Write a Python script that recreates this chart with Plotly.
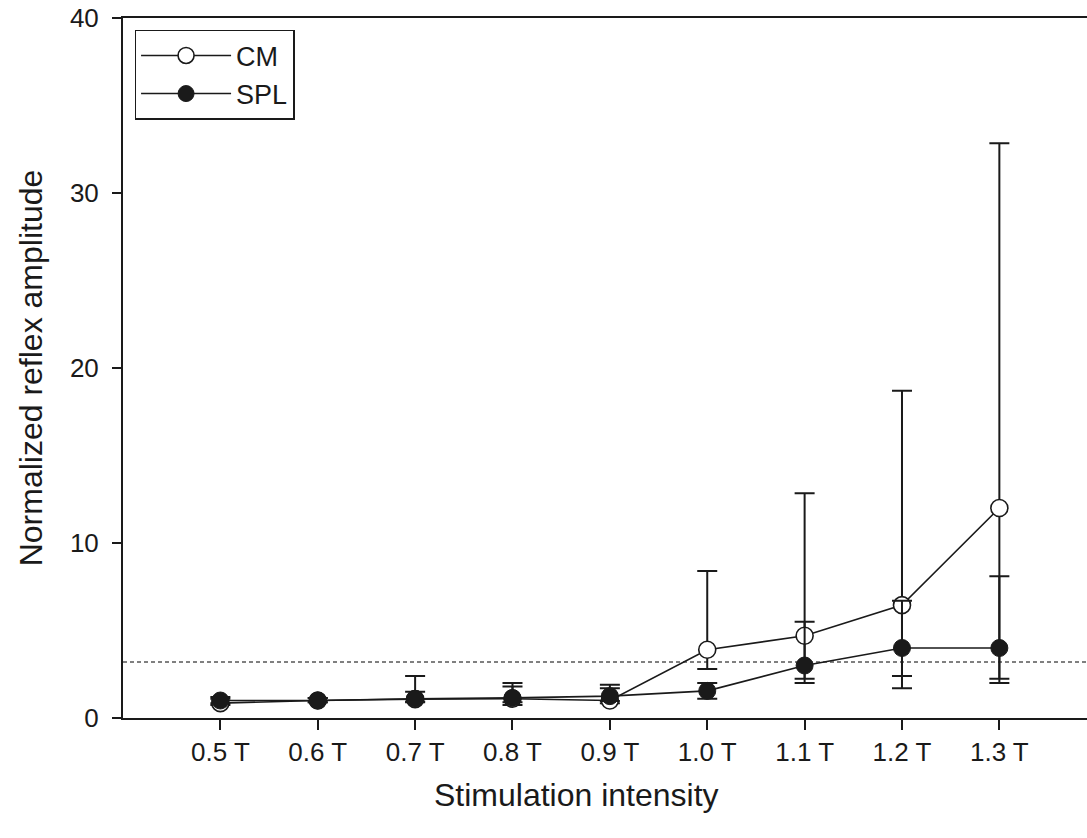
import plotly.graph_objects as go

categories = ["0.5 T", "0.6 T", "0.7 T", "0.8 T", "0.9 T", "1.0 T", "1.1 T", "1.2 T", "1.3 T"]

cm_mean = [0.85, 1.0, 1.08, 1.1, 1.0, 3.9, 4.7, 6.45, 12.0]
cm_upper = [1.1, 1.15, 1.5, 1.8, 1.7, 8.4, 12.85, 18.7, 32.85]
cm_lower = [0.75, 0.9, 0.9, 0.75, 0.85, 2.8, 2.0, 1.7, 2.0]

spl_mean = [1.0, 1.0, 1.1, 1.15, 1.25, 1.55, 3.0, 4.0, 4.0]
spl_upper = [1.2, 1.15, 2.4, 2.0, 1.9, 2.0, 5.5, 6.7, 8.1]
spl_lower = [0.85, 0.9, 0.95, 0.9, 0.97, 1.1, 2.25, 2.4, 2.25]

threshold = 3.2

def plus(u, m):
    return [a - b for a, b in zip(u, m)]

def minus(m, l):
    return [a - b for a, b in zip(m, l)]

font = "Liberation Sans, Arial, sans-serif"
ink = "#1a1a1a"

fig = go.Figure()
fig.add_trace(go.Scatter(
    x=categories, y=cm_mean, name="CM", mode="lines+markers",
    line=dict(color=ink, width=1.6),
    marker=dict(symbol="circle", size=17, color="white", line=dict(color=ink, width=1.6)),
    error_y=dict(type="data", symmetric=False, array=plus(cm_upper, cm_mean),
                 arrayminus=minus(cm_mean, cm_lower), color=ink, thickness=2, width=10),
    cliponaxis=False,
))
fig.add_trace(go.Scatter(
    x=categories, y=spl_mean, name="SPL", mode="lines+markers",
    line=dict(color=ink, width=1.6),
    marker=dict(symbol="circle", size=17, color=ink, line=dict(color=ink, width=1)),
    error_y=dict(type="data", symmetric=False, array=plus(spl_upper, spl_mean),
                 arrayminus=minus(spl_mean, spl_lower), color=ink, thickness=2, width=10),
    cliponaxis=False,
))

fig.add_shape(type="line", xref="paper", x0=0, x1=1, yref="y", y0=threshold, y1=threshold,
              line=dict(color="#000000", width=1, dash="4px,3px"), layer="below")

fig.add_annotation(text="Stimulation intensity", xref="paper", yref="paper",
                   x=0.47, y=-0.11, xanchor="center", yanchor="middle",
                   showarrow=False, font=dict(size=32, color=ink))

fig.update_layout(
    width=1087, height=838,
    margin=dict(l=123, r=0, t=18, b=120),
    paper_bgcolor="white", plot_bgcolor="white",
    font=dict(family=font, size=26, color=ink),
    showlegend=True,
    legend=dict(x=0.012, y=0.983, xanchor="left", yanchor="top",
                bordercolor=ink, borderwidth=1.5, bgcolor="white",
                font=dict(size=27), itemwidth=90, tracegroupgap=0),
    xaxis=dict(
        type="category", categoryorder="array", categoryarray=categories,
        range=[-1, 8.9], showgrid=False, zeroline=False,
        showline=True, linecolor=ink, linewidth=2, mirror=True,
        ticks="outside", ticklen=10, tickwidth=1.5, tickcolor=ink,
        tickfont=dict(size=26), ticklabelstandoff=0,
    ),
    yaxis=dict(
        range=[0, 40], tickvals=[0, 10, 20, 30, 40], showgrid=False, zeroline=False,
        showline=True, linecolor=ink, linewidth=2,
        ticks="outside", ticklen=9, tickwidth=1.5, tickcolor=ink,
        tickfont=dict(size=26), ticklabelstandoff=8,
        title=dict(text="Normalized reflex amplitude", font=dict(size=32), standoff=18),
    ),
)

fig.write_html("out.html", config={"displayModeBar": False},
               post_script="document.body.style.margin='0px';")
